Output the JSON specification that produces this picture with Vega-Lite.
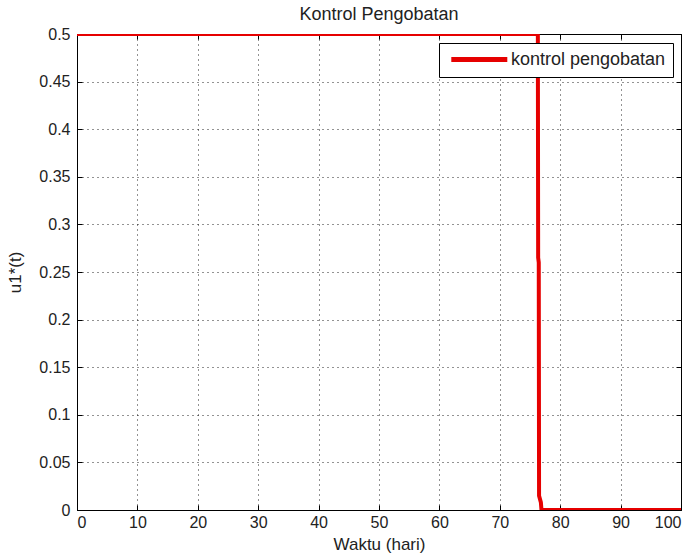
{
  "$schema": "https://vega.github.io/schema/vega-lite/v6.json",
  "width": 604,
  "height": 476,
  "autosize": {"type": "none"},
  "padding": {"left": 77, "top": 34, "right": 16, "bottom": 49},
  "background": "white",
  "title": {"text": "Kontrol Pengobatan", "font": "Liberation Sans", "fontSize": 18, "fontWeight": "normal", "color": "#222", "offset": 2},
  "config": {
    "view": {"stroke": "black", "strokeWidth": 1},
    "axis": {"labelFont": "Liberation Sans", "titleFont": "Liberation Sans", "labelFontSize": 16, "titleFontSize": 17, "titleFontWeight": "normal", "labelColor": "#222", "titleColor": "#222", "domainColor": "black", "tickColor": "black", "gridColor": "black", "gridDash": [1, 4], "gridOpacity": 0.85}
  },
  "data": {"values": [
    {"t": 0, "u": 0.5, "s": "kontrol pengobatan"},
    {"t": 76.3, "u": 0.5, "s": "kontrol pengobatan"},
    {"t": 76.35, "u": 0.265, "s": "kontrol pengobatan"},
    {"t": 76.45, "u": 0.26, "s": "kontrol pengobatan"},
    {"t": 76.5, "u": 0.015, "s": "kontrol pengobatan"},
    {"t": 76.8, "u": 0.008, "s": "kontrol pengobatan"},
    {"t": 76.9, "u": 0, "s": "kontrol pengobatan"},
    {"t": 100, "u": 0, "s": "kontrol pengobatan"}
  ]},
  "layer": [
    {
      "mark": {"type": "line", "strokeWidth": 4, "clip": true},
      "encoding": {
        "x": {"field": "t", "type": "quantitative", "scale": {"domain": [0, 100], "nice": false, "zero": false},
          "axis": {"orient": "bottom", "title": "Waktu (hari)", "format": "d", "values": [0,10,20,30,40,50,60,70,80,90,100], "tickSize": -5, "labelPadding": 9, "grid": true, "domain": false, "titlePadding": 6}},
        "y": {"field": "u", "type": "quantitative", "scale": {"domain": [0, 0.5], "nice": false, "zero": false},
          "axis": {"orient": "left", "title": "u1*(t)", "format": "~r", "values": [0,0.05,0.1,0.15,0.2,0.25,0.3,0.35,0.4,0.45,0.5], "tickSize": -5, "labelPadding": 12, "grid": true, "domain": false, "titlePadding": 14}},
        "color": {"field": "s", "type": "nominal", "scale": {"domain": ["kontrol pengobatan"], "range": ["#e60000"]},
          "legend": {"title": null, "orient": "none", "legendX": 362, "legendY": 9, "symbolType": "M-0.6,0H7.4", "symbolSize": 196, "symbolStrokeWidth": 5, "labelFont": "Liberation Sans", "labelFontSize": 18, "labelColor": "#222", "strokeColor": "black", "fillColor": "white", "padding": 7, "labelOffset": 46}}
      }
    },
    {
      "mark": {"type": "line", "opacity": 0},
      "encoding": {
        "x": {"field": "t", "type": "quantitative", "axis": {"orient": "top", "title": null, "labels": false, "values": [0,10,20,30,40,50,60,70,80,90,100], "tickSize": -5, "grid": false, "domain": false}},
        "y": {"field": "u", "type": "quantitative", "axis": {"orient": "right", "title": null, "labels": false, "values": [0,0.05,0.1,0.15,0.2,0.25,0.3,0.35,0.4,0.45,0.5], "tickSize": -5, "grid": false, "domain": false}}
      }
    }
  ],
  "resolve": {"axis": {"x": "independent", "y": "independent"}}
}
